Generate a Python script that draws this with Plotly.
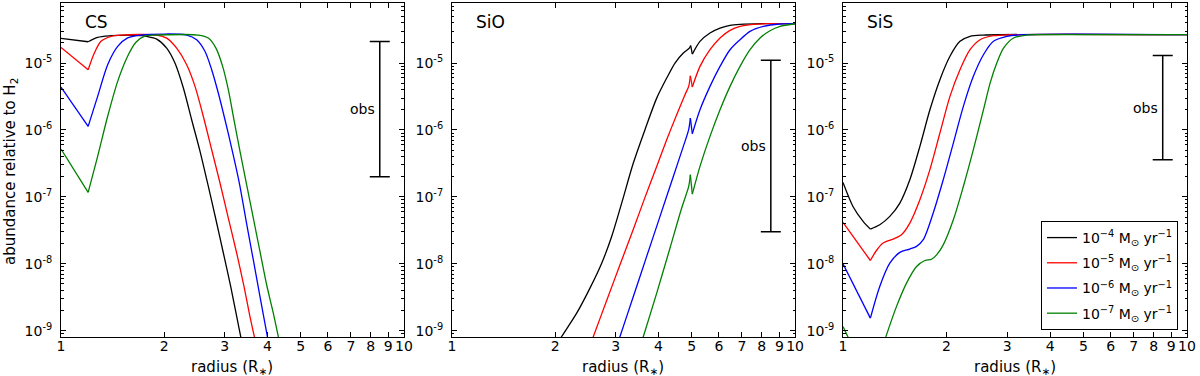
import math
import plotly.graph_objects as go

# ---------------- data ----------------
radius_ticks = [1, 2, 3, 4, 5, 6, 7, 8, 9, 10]
radius_tick_labels = ["1", "2", "3", "4", "5", "6", "7", "8", "9", "10"]
abund_ticks = [1e-9, 1e-8, 1e-7, 1e-6, 1e-5]
abund_tick_labels = ["10<sup>-9</sup>", "10<sup>-8</sup>", "10<sup>-7</sup>",
                     "10<sup>-6</sup>", "10<sup>-5</sup>"]

series_names = ["10<sup>\u22124</sup> M<sub>\u2299</sub> yr<sup>\u22121</sup>",
                "10<sup>\u22125</sup> M<sub>\u2299</sub> yr<sup>\u22121</sup>",
                "10<sup>\u22126</sup> M<sub>\u2299</sub> yr<sup>\u22121</sup>",
                "10<sup>\u22127</sup> M<sub>\u2299</sub> yr<sup>\u22121</sup>"]
series_colors = ["#000000", "#ff0000", "#0000ff", "#008000"]
panel_names = ["CS", "SiO", "SiS"]

# CS
cs_r_m4 = [1.00, 1.20, 1.279, 1.399, 1.564, 1.711, 1.777, 1.901, 2.033, 2.149, 2.274, 2.404,
           2.543, 2.689, 2.830, 2.974, 3.124, 3.267, 3.341, 3.493]
cs_y_m4 = [2.34e-5, 2.08e-5, 2.42e-5, 2.56e-5, 2.62e-5, 2.56e-5, 2.50e-5, 2.28e-5, 1.67e-5,
           1.00e-5, 4.23e-6, 1.42e-6, 4.79e-7, 1.43e-7, 4.55e-8, 1.45e-8, 4.58e-9, 1.46e-9,
           8.20e-10, 2.61e-10]
cs_r_m5 = [1.00, 1.20, 1.251, 1.308, 1.399, 1.496, 1.901, 2.033, 2.174, 2.325, 2.459, 2.600,
           2.750, 2.908, 3.075, 3.252, 3.416, 3.556, 3.661, 3.846]
cs_y_m5 = [1.71e-5, 7.94e-6, 1.41e-5, 2.11e-5, 2.51e-5, 2.62e-5, 2.62e-5, 2.36e-5, 1.67e-5,
           9.44e-6, 4.48e-6, 1.59e-6, 5.06e-7, 1.61e-7, 4.82e-8, 1.45e-8, 4.58e-9, 1.63e-9,
           8.20e-10, 2.61e-10]
cs_r_m6 = [1.00, 1.20, 1.279, 1.368, 1.463, 1.564, 1.711, 2.325, 2.486, 2.630, 2.750, 2.875,
           3.007, 3.145, 3.311, 3.477, 3.637, 3.786, 3.996, 4.159]
cs_y_m6 = [4.38e-6, 1.13e-6, 3.18e-6, 9.44e-6, 1.77e-5, 2.37e-5, 2.62e-5, 2.62e-5, 2.23e-5,
           1.49e-5, 7.94e-6, 3.56e-6, 1.42e-6, 5.36e-7, 1.61e-7, 3.98e-8, 1.14e-8, 3.68e-9,
           8.20e-10, 2.65e-10]
cs_r_m7 = [1.00, 1.20, 1.279, 1.368, 1.463, 1.564, 1.654, 1.769, 1.913, 2.514, 2.689, 2.830,
           2.960, 3.075, 3.194, 3.326, 3.477, 3.637, 3.803, 3.977, 4.159, 4.300, 4.508]
cs_y_m7 = [5.19e-7, 1.17e-7, 4.03e-7, 1.60e-6, 5.32e-6, 1.26e-5, 2.04e-5, 2.56e-5, 2.62e-5,
           2.62e-5, 2.36e-5, 1.67e-5, 8.91e-6, 3.99e-6, 1.42e-6, 4.79e-7, 1.52e-7, 4.82e-8,
           1.53e-8, 4.86e-9, 1.83e-9, 8.20e-10, 2.61e-10]

# SiO
sio_r_m4 = [1.863, 2.088, 2.310, 2.525, 2.732, 2.921, 3.124, 3.378, 3.653, 3.952, 4.226, 4.468,
            4.725, 4.920, 4.964, 5.019, 5.284, 5.651, 6.044, 6.464, 6.914, 8.0, 10.0]
sio_y_m4 = [3.28e-10, 8.20e-10, 1.83e-9, 4.33e-9, 1.02e-8, 2.56e-8, 8.07e-8, 3.20e-7, 1.01e-6,
            2.99e-6, 5.96e-6, 1.00e-5, 1.41e-5, 1.67e-5, 1.82e-5, 1.36e-5, 2.11e-5, 2.81e-5,
            3.33e-5, 3.66e-5, 3.78e-5, 3.87e-5, 3.87e-5]
sio_r_m5 = [2.415, 2.583, 2.825, 3.089, 3.378, 3.653, 3.952, 4.226, 4.519, 4.778, 4.898, 4.953,
            5.019, 5.284, 5.651, 6.044, 6.464, 6.914, 7.56, 8.27, 10.0]
sio_y_m5 = [3.28e-10, 8.20e-10, 2.83e-9, 9.68e-9, 3.28e-8, 9.82e-8, 2.85e-7, 7.14e-7, 1.69e-6,
            3.36e-6, 4.48e-6, 6.45e-6, 4.38e-6, 8.91e-6, 1.58e-5, 2.37e-5, 3.08e-5, 3.53e-5,
            3.78e-5, 3.87e-5, 3.87e-5]
sio_r_m6 = [2.908, 3.089, 3.378, 3.695, 4.041, 4.418, 4.725, 4.898, 4.953, 5.019, 5.284, 5.651,
            6.044, 6.464, 6.914, 7.393, 8.085, 9.045, 10.0]
sio_y_m6 = [3.28e-10, 8.20e-10, 3.25e-9, 1.29e-8, 5.11e-8, 2.02e-7, 5.68e-7, 1.01e-6, 1.50e-6,
            8.77e-7, 2.00e-6, 4.48e-6, 8.91e-6, 1.58e-5, 2.23e-5, 2.97e-5, 3.53e-5, 3.83e-5,
            3.87e-5]
sio_r_m7 = [3.416, 3.613, 3.952, 4.321, 4.673, 4.898, 4.953, 5.019, 5.284, 5.651, 6.044, 6.464,
            6.914, 7.393, 7.907, 8.454, 9.045, 9.888, 10.0]
sio_y_m7 = [3.28e-10, 8.20e-10, 3.65e-9, 1.72e-8, 6.81e-8, 1.43e-7, 2.14e-7, 1.10e-7, 2.85e-7,
            8.02e-7, 2.00e-6, 4.48e-6, 8.91e-6, 1.58e-5, 2.37e-5, 3.04e-5, 3.53e-5, 3.83e-5,
            3.85e-5]

# SiS
sis_r_m4 = [1.00, 1.069, 1.144, 1.201, 1.279, 1.368, 1.463, 1.564, 1.673, 1.789, 1.913, 2.046,
            2.188, 2.340, 2.560, 10.0]
sis_y_m4 = [1.64e-7, 7.19e-8, 4.30e-8, 3.30e-8, 3.83e-8, 5.11e-8, 8.07e-8, 1.80e-7, 5.68e-7,
            2.00e-6, 5.64e-6, 1.26e-5, 2.11e-5, 2.51e-5, 2.62e-5, 2.65e-5]
sis_r_m5 = [1.00, 1.201, 1.251, 1.308, 1.399, 1.479, 1.564, 1.673, 1.789, 1.913, 2.046, 2.188,
            2.340, 2.503, 2.737, 3.062, 10.0]
sis_y_m5 = [4.15e-8, 1.12e-8, 1.58e-8, 2.04e-8, 2.34e-8, 2.72e-8, 4.06e-8, 9.06e-8, 2.55e-7,
            9.00e-7, 3.18e-6, 7.94e-6, 1.58e-5, 2.23e-5, 2.56e-5, 2.65e-5, 2.65e-5]
sis_r_m6 = [1.00, 1.201, 1.279, 1.368, 1.463, 1.564, 1.636, 1.711, 1.829, 1.956, 2.093, 2.238,
            2.393, 2.560, 2.737, 2.994, 3.348, 10.0]
sis_y_m6 = [1.00e-8, 1.54e-9, 4.59e-9, 1.02e-8, 1.48e-8, 1.66e-8, 1.82e-8, 2.29e-8, 5.73e-8,
            1.80e-7, 6.37e-7, 2.25e-6, 6.32e-6, 1.33e-5, 2.11e-5, 2.51e-5, 2.65e-5, 2.65e-5]
sis_r_m7 = [1.00, 1.034, 1.201, 1.331, 1.431, 1.530, 1.636, 1.730, 1.809, 1.871, 1.956, 2.093,
            2.238, 2.393, 2.560, 2.677, 2.799, 2.928, 3.131, 3.423, 3.829, 10.0]
sis_y_m7 = [1.16e-9, 8.02e-10, 1.56e-10, 8.02e-10, 2.31e-9, 5.14e-9, 9.12e-9, 1.12e-8, 1.17e-8,
            1.36e-8, 1.92e-8, 4.55e-8, 1.43e-7, 5.07e-7, 2.00e-6, 5.02e-6, 1.00e-5, 1.67e-5,
            2.37e-5, 2.62e-5, 2.65e-5, 2.65e-5]

# radii where the curves have a sharp corner (not smoothed)
cs_kinks = [1.20]
sio_kinks = [4.953, 4.964, 5.019]
sis_kinks = [1.201]

# observed ranges (one per panel)
obs_radius = [8.5, 8.5, 8.5]
obs_high = [2.1e-5, 1.1e-5, 1.3e-5]
obs_low = [2.0e-7, 3.0e-8, 3.6e-7]

panels = [
    [(cs_r_m4, cs_y_m4), (cs_r_m5, cs_y_m5), (cs_r_m6, cs_y_m6), (cs_r_m7, cs_y_m7)],
    [(sio_r_m4, sio_y_m4), (sio_r_m5, sio_y_m5), (sio_r_m6, sio_y_m6), (sio_r_m7, sio_y_m7)],
    [(sis_r_m4, sis_y_m4), (sis_r_m5, sis_y_m5), (sis_r_m6, sis_y_m6), (sis_r_m7, sis_y_m7)],
]
panel_kinks = [cs_kinks, sio_kinks, sis_kinks]


def split_at_kinks(rr, yy, kinks):
    idx = [i for i, r in enumerate(rr) if any(abs(r - k) < 1e-6 for k in kinks)]
    cuts = [0] + idx + [len(rr) - 1]
    segs = []
    for a, b in zip(cuts[:-1], cuts[1:]):
        if b > a:
            segs.append((rr[a:b + 1], yy[a:b + 1]))
    return segs


# ---------------- figure ----------------
FONT = "DejaVu Sans, Bitstream Vera Sans, sans-serif"
W, H = 1200, 376
ML, MR, MT, MB = 61, 13, 3, 39
domains = [[0.0, 0.3046], [0.3472, 0.6519], [0.6945, 1.0]]
YRANGE = [-9.094, -4.103]

fig = go.Figure()
minor_y = [k * 10.0 ** e for e in range(-10, -3) for k in range(2, 10)]

for p, series in enumerate(panels):
    xa = "x" if p == 0 else f"x{p+1}"
    ya = "y" if p == 0 else f"y{p+1}"
    for s, (rr, yy) in enumerate(series):
        segs = split_at_kinks(rr, yy, panel_kinks[p])
        for j, (sr, sy) in enumerate(segs):
            fig.add_trace(go.Scatter(
                x=sr, y=sy, mode="lines", xaxis=xa, yaxis=ya,
                line=dict(color=series_colors[s], width=1.3, shape="spline", smoothing=0.8),
                name=series_names[s], legendgroup=f"g{s}",
                showlegend=(p == 2 and j == 0), legendrank=s + 1,
            ))
    mid = math.sqrt(obs_high[p] * obs_low[p])
    fig.add_trace(go.Scatter(
        x=[obs_radius[p]], y=[mid], mode="markers", xaxis=xa, yaxis=ya,
        marker=dict(size=1, color="rgba(0,0,0,0)"), showlegend=False,
        error_y=dict(type="data", symmetric=False,
                     array=[obs_high[p] - mid], arrayminus=[mid - obs_low[p]],
                     color="black", thickness=1.5, width=10),
    ))
    fig.add_annotation(x=math.log10(obs_radius[p]), y=math.log10(mid), xref=xa, yref=ya,
                       text="obs", showarrow=False, xanchor="right", yanchor="middle",
                       xshift=-3, font=dict(family=FONT, size=14, color="black"))
    fig.add_annotation(x=0.064, y=0.943, xref=f"{xa} domain", yref=f"{ya} domain",
                       text=panel_names[p], showarrow=False, xanchor="left",
                       yanchor="middle", font=dict(family=FONT, size=17, color="black"))
    fig.add_annotation(x=0.5, y=-(367 - 337) / 334, xref=f"{xa} domain", yref="paper",
                       text="radius (R<sub>\u2217</sub>)", showarrow=False, xanchor="center",
                       yanchor="middle", font=dict(family=FONT, size=15, color="black"))

    axis_common = dict(showline=True, linecolor="black", linewidth=1, mirror="allticks",
                       ticks="inside", tickwidth=1, tickcolor="black", showgrid=False,
                       zeroline=False, tickfont=dict(family=FONT, size=14, color="black"))
    xkey = "xaxis" if p == 0 else f"xaxis{p+1}"
    ykey = "yaxis" if p == 0 else f"yaxis{p+1}"
    fig.update_layout({
        xkey: dict(type="log", range=[0, 1], domain=domains[p], anchor=ya,
                   tickmode="array", tickvals=radius_ticks, ticktext=radius_tick_labels,
                   ticklen=5, ticklabelstandoff=-4, **axis_common),
        ykey: dict(type="log", range=YRANGE, domain=[0, 1], anchor=xa,
                   tickmode="array", tickvals=abund_ticks, ticktext=abund_tick_labels,
                   ticklen=5, ticklabelstandoff=5,
                   minor=dict(ticks="inside", ticklen=2.5, tickcolor="black", tickwidth=1,
                              tickmode="array", tickvals=minor_y, showgrid=False),
                   **axis_common),
    })

fig.add_annotation(x=-(61 - 10) / 1126, y=0.494, xref="paper", yref="paper",
                   text="abundance relative to H<sub>2</sub>", textangle=-90, showarrow=False,
                   xanchor="center", yanchor="middle",
                   font=dict(family=FONT, size=15, color="black"))

fig.update_layout(
    width=W, height=H, margin=dict(l=ML, r=MR, t=MT, b=MB),
    paper_bgcolor="white", plot_bgcolor="white",
    font=dict(family=FONT, size=14, color="black"),
    legend=dict(x=0.992, y=0.021, xanchor="right", yanchor="bottom",
                bgcolor="white", bordercolor="black", borderwidth=1,
                font=dict(family=FONT, size=14, color="black"),
                tracegroupgap=4, traceorder="grouped"),
)

fig.write_html("out.html", config={"displayModeBar": False},
               post_script="document.body.style.margin='0';")
